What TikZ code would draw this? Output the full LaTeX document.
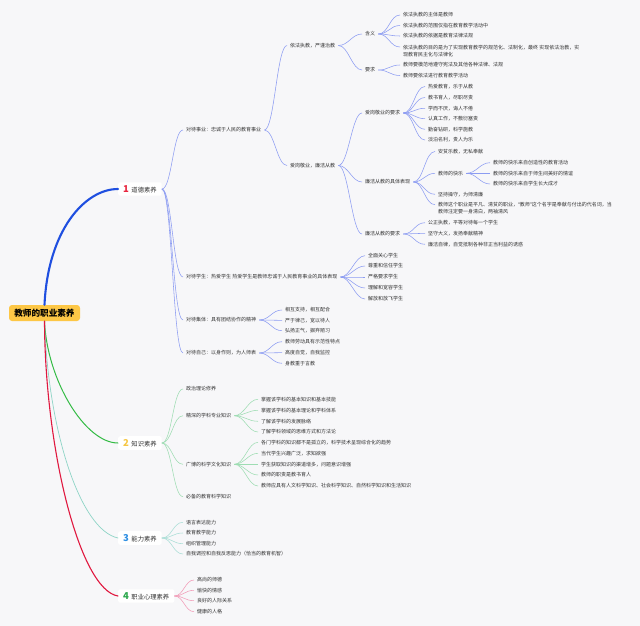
\documentclass[tikz,border=0pt]{standalone}
\usepackage{fontspec}
\setmainfont{Noto Sans CJK SC}
\newfontfamily\latinq{Noto Sans}
\usetikzlibrary{calc}
\definecolor{bgc}{HTML}{F7F7F9}
\definecolor{rootc}{HTML}{FDC746}
\definecolor{txt}{HTML}{333333}
\definecolor{numred}{HTML}{E8263F}
\definecolor{numyellow}{HTML}{F6C744}
\definecolor{numblue}{HTML}{2F8FE3}
\definecolor{numgreen}{HTML}{2CA84D}
\definecolor{mone}{HTML}{1F4FE0}
\definecolor{sone}{HTML}{8C9CF2}
\definecolor{mtwo}{HTML}{33BB44}
\definecolor{stwo}{HTML}{9EDDB3}
\definecolor{mthree}{HTML}{8ED4C6}
\definecolor{sthree}{HTML}{A9DED6}
\definecolor{mfour}{HTML}{E0183F}
\definecolor{sfour}{HTML}{F29BB7}
\newcommand{\numb}[2]{{\fontsize{9.5}{9}\selectfont\bfseries\color{#1}#2}\hspace{2.5pt}}
\tikzset{
  leaf/.style={font=\fontsize{5}{7}\selectfont, text=txt, inner xsep=3pt, inner ysep=0.5pt, anchor=west},
  leaftwo/.style={leaf, anchor=north west, align=left},
  mainnode/.style={fill=white, rounded corners=2pt, anchor=west, inner xsep=5pt, inner ysep=3pt, font=\fontsize{6.3}{8}\selectfont, text=txt},
  rootnode/.style={fill=rootc, rounded corners=3pt, minimum width=71pt, minimum height=16pt, inner sep=0pt, font=\fontsize{8.6}{10}\selectfont\bfseries, text=black},
  mainone/.style={draw=mone, line width=2.1pt, line cap=round},
  maintwo/.style={draw=mtwo, line width=1pt, line cap=round},
  mainthree/.style={draw=mthree, line width=0.7pt, line cap=round},
  mainfour/.style={draw=mfour, line width=1.1pt, line cap=round},
  subone/.style={draw=sone, line width=0.55pt},
  subtwo/.style={draw=stwo, line width=0.55pt},
  subthree/.style={draw=sthree, line width=0.55pt},
  subfour/.style={draw=sfour, line width=0.55pt}
}
\begin{document}
\begin{tikzpicture}[x=1pt,y=-1pt]
\fill[bgc] (0,0) rectangle (640,626);
\useasboundingbox (0,0) rectangle (640,626);

% root and main nodes
\node[rootnode] (root) at (44.5,313) {教师的职业素养};
\node[mainnode] (b1) at (118,189) {\numb{numred}{1}道德素养};
\node[mainnode] (b2) at (118,443) {\numb{numyellow}{2}知识素养};
\node[mainnode] (b3) at (118,538) {\numb{numblue}{3}能力素养};
\node[mainnode] (b4) at (118,596) {\numb{numgreen}{4}职业心理素养};

\draw[mainone] (root.north) .. controls (48,230) and (85,189) .. (b1.west);
\draw[maintwo] (root.south) .. controls (47,380) and (85,443) .. (b2.west);
\draw[mainthree] (root.south) .. controls (48,430) and (80,530) .. (b3.west);
\draw[mainfour] (root.south) .. controls (45,450) and (80,590) .. (b4.west);

% branch 1 level 2
\node[leaf] (e1) at (183,130) {对待事业：忠诚于人民的教育事业};
\node[leaf] (e2) at (183,277) {对待学生：热爱学生 热爱学生是教师忠诚于人民教育事业的具体表现};
\node[leaf] (e3) at (183,320) {对待集体：具有团结协作的精神};
\node[leaf] (e4) at (183,353) {对待自己：以身作则，为人师表};
\foreach \c in {e1,e2,e3,e4} \draw[subone] (b1.east) .. controls +(10,0) and +(-10,0) .. (\c.west);

% e1 children
\node[leaf] (f1) at (287,45.5) {依法执教，严谨治教};
\node[leaf] (f2) at (287,165.5) {爱岗敬业，廉洁从教};
\foreach \c in {f1,f2} \draw[subone] (e1.east) .. controls +(10,0) and +(-10,0) .. (\c.west);

% f1 children
\node[leaf] (g1) at (362,34) {含义};
\node[leaf] (g2) at (362,70) {要求};
\foreach \c in {g1,g2} \draw[subone] (f1.east) .. controls +(10,0) and +(-10,0) .. (\c.west);

\node[leaf] (h1) at (400,15) {依法执教的主体是教师};
\node[leaf] (h2) at (400,25.5) {依法执教的范围仅指在教育教学活动中};
\node[leaf] (h3) at (400,36) {依法执教的依据是教育法律法规};
\node[leaftwo] (h4) at (400,44.3) {依法执教的目的是为了实现教育教学的规范化、法制化，最终 实现依法治教，实\\现教育民主化与法律化};
\coordinate (h4c) at ($(h4.north west)+(0,2.7)$);
\foreach \c in {h1,h2,h3} \draw[subone] (g1.east) .. controls +(10,0) and +(-10,0) .. (\c.west);
\draw[subone] (g1.east) .. controls +(10,0) and +(-10,0) .. (h4c);

\node[leaf] (h5) at (400,65) {教师要模范地遵守宪法及其他各种法律、法规};
\node[leaf] (h6) at (400,75.5) {教师要依法进行教育教学活动};
\foreach \c in {h5,h6} \draw[subone] (g2.east) .. controls +(10,0) and +(-10,0) .. (\c.west);

% f2 children
\node[leaf] (g3) at (362,113) {爱岗敬业的要求};
\node[leaf] (g4) at (362,182) {廉洁从教的具体表现};
\node[leaf] (g5) at (362,234) {廉洁从教的要求};
\foreach \c in {g3,g4,g5} \draw[subone] (f2.east) .. controls +(10,0) and +(-10,0) .. (\c.west);

\node[leaf] (i1) at (425,86.5) {热爱教育，乐于从教};
\node[leaf] (i2) at (425,97.5) {教书育人，尽职尽责};
\node[leaf] (i3) at (425,108.3) {学而不厌，诲人不倦};
\node[leaf] (i4) at (425,118.7) {认真工作，不敷衍塞责};
\node[leaf] (i5) at (425,129.3) {勤奋钻研，科学施教};
\node[leaf] (i6) at (425,140) {淡泊名利，贵人为乐};
\foreach \c in {i1,i2,i3,i4,i5,i6} \draw[subone] (g3.east) .. controls +(10,0) and +(-10,0) .. (\c.west);

\node[leaf] (j1) at (435,151.5) {安贫乐教，无私奉献};
\node[leaf] (j2) at (435,173.3) {教师的快乐};
\node[leaf] (j3) at (435,194.3) {坚持操守，为师清廉};
\node[leaftwo] (j4) at (435,202) {教师这个职业是平凡、清贫的职业，{\latinq “}教师{\latinq ”}这个名字是奉献与付出的代名词，当\\教师注定要一身清白，两袖清风};
\coordinate (j4c) at ($(j4.north west)+(0,2.7)$);
\foreach \c in {j1,j2,j3} \draw[subone] (g4.east) .. controls +(10,0) and +(-10,0) .. (\c.west);
\draw[subone] (g4.east) .. controls +(10,0) and +(-10,0) .. (j4c);

\node[leaf] (k1) at (490,162.7) {教师的快乐来自创造性的教育活动};
\node[leaf] (k2) at (490,173.3) {教师的快乐来自于师生间美好的情谊};
\node[leaf] (k3) at (490,184) {教师的快乐来自学生长大成才};
\foreach \c in {k1,k2,k3} \draw[subone] (j2.east) .. controls +(10,0) and +(-10,0) .. (\c.west);

\node[leaf] (l1) at (425,222.7) {公正执教，平等对待每一个学生};
\node[leaf] (l2) at (425,233.3) {坚守大义，发扬奉献精神};
\node[leaf] (l3) at (425,244.3) {廉洁自律，自觉抵制各种非正当利益的诱惑};
\foreach \c in {l1,l2,l3} \draw[subone] (g5.east) .. controls +(10,0) and +(-10,0) .. (\c.west);

% e2 children
\node[leaf] (m1) at (365,255.7) {全面关心学生};
\node[leaf] (m2) at (365,266) {尊重和信任学生};
\node[leaf] (m3) at (365,277) {严格要求学生};
\node[leaf] (m4) at (365,288) {理解和宽容学生};
\node[leaf] (m5) at (365,299) {解放和放飞学生};
\foreach \c in {m1,m2,m3,m4,m5} \draw[subone] (e2.east) .. controls +(10,0) and +(-10,0) .. (\c.west);

% e3 children
\node[leaf] (n1) at (282,310) {相互支持，相互配合};
\node[leaf] (n2) at (282,320.3) {严于律己，宽以待人};
\node[leaf] (n3) at (282,330.7) {弘扬正气，摒弃陋习};
\foreach \c in {n1,n2,n3} \draw[subone] (e3.east) .. controls +(10,0) and +(-10,0) .. (\c.west);

% e4 children
\node[leaf] (o1) at (282,341.7) {教师劳动具有示范性特点};
\node[leaf] (o2) at (282,352.7) {高度自觉，自我监控};
\node[leaf] (o3) at (282,363.3) {身教重于言教};
\foreach \c in {o1,o2,o3} \draw[subone] (e4.east) .. controls +(10,0) and +(-10,0) .. (\c.west);

% branch 2
\node[leaf] (p1) at (183,389) {政治理论修养};
\node[leaf] (p2) at (183,415.7) {精深的学科专业知识};
\node[leaf] (p3) at (183,464.3) {广博的科学文化知识};
\node[leaf] (p4) at (183,496.7) {必备的教育科学知识};
\foreach \c in {p1,p2,p3,p4} \draw[subtwo] (b2.east) .. controls +(10,0) and +(-10,0) .. (\c.west);

\node[leaf] (q1) at (258,399.3) {掌握该学科的基本知识和基本技能};
\node[leaf] (q2) at (258,410.3) {掌握该学科的基本理论和学科体系};
\node[leaf] (q3) at (258,421.3) {了解该学科的发展脉络};
\node[leaf] (q4) at (258,432) {了解学科领域的思维方式和方法论};
\foreach \c in {q1,q2,q3,q4} \draw[subtwo] (p2.east) .. controls +(10,0) and +(-10,0) .. (\c.west);

\node[leaf] (r1) at (258,442.3) {各门学科的知识都不是孤立的，科学技术呈现综合化的趋势};
\node[leaf] (r2) at (258,453.3) {当代学生兴趣广泛，求知欲强};
\node[leaf] (r3) at (258,464.3) {学生获取知识的渠道增多，问题意识增强};
\node[leaf] (r4) at (258,475) {教师的职责是教书育人};
\node[leaf] (r5) at (258,486) {教师应具有人文科学知识、社会科学知识、自然科学知识和生活知识};
\foreach \c in {r1,r2,r3,r4,r5} \draw[subtwo] (p3.east) .. controls +(10,0) and +(-10,0) .. (\c.west);

% branch 3
\node[leaf] (s1) at (183,522.3) {语言表达能力};
\node[leaf] (s2) at (183,533) {教育教学能力};
\node[leaf] (s3) at (183,543.7) {组织管理能力};
\node[leaf] (s4) at (183,554) {自我调控和自我反思能力（恰当的教育机智）};
\foreach \c in {s1,s2,s3,s4} \draw[subthree] (b3.east) .. controls +(10,0) and +(-10,0) .. (\c.west);

% branch 4
\node[leaf] (t1) at (194,580) {高尚的师德};
\node[leaf] (t2) at (194,590.3) {愉快的情感};
\node[leaf] (t3) at (194,600.7) {良好的人际关系};
\node[leaf] (t4) at (194,611.7) {健康的人格};
\foreach \c in {t1,t2,t3,t4} \draw[subfour] (b4.east) .. controls +(9,0) and +(-9,0) .. (\c.west);

\end{tikzpicture}
\end{document}
